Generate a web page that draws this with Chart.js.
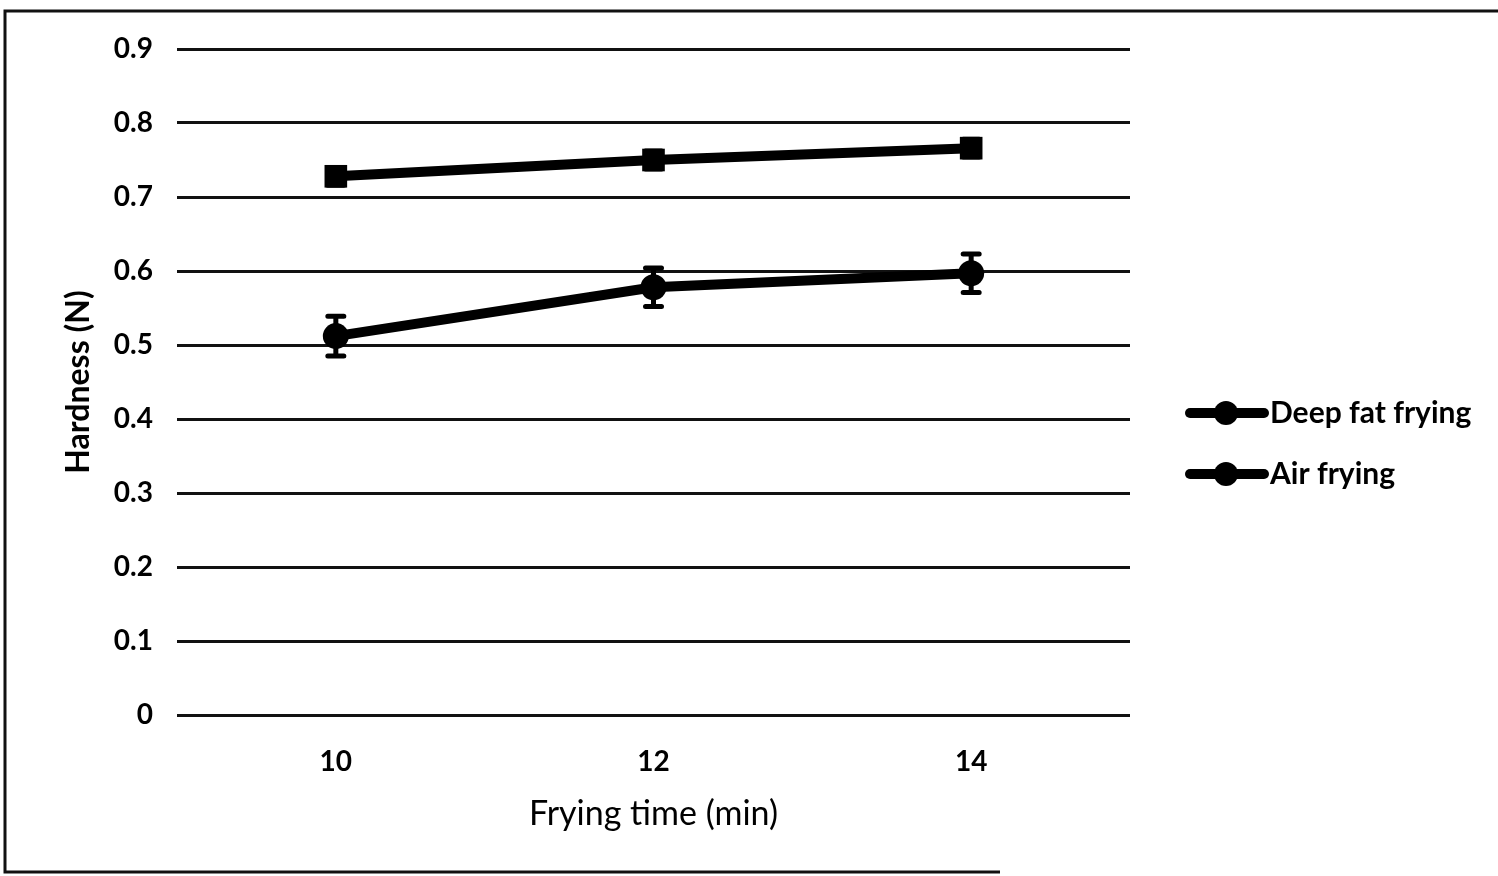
<!DOCTYPE html>
<html>
<head>
<meta charset="utf-8">
<script src="https://cdn.jsdelivr.net/npm/chart.js@4.4.1/dist/chart.umd.min.js"></script>
<style>
  html, body { margin: 0; padding: 0; background: #fff; }
  #wrap { width: 1498px; height: 876px; }
</style>
</head>
<body>
<div id="wrap"><canvas id="c" width="1498" height="876"></canvas></div>
<script>
// Frying time categories (min)
const fryingTimes = ['10', '12', '14'];
// Hardness (N) means and standard deviations
const deepFatHardness = [0.728, 0.750, 0.766];
const deepFatError = [0.012, 0.012, 0.012];
const airFryHardness = [0.512, 0.578, 0.597];
const airFryError = [0.027, 0.026, 0.026];
// Axis settings
const yMin = 0, yMax = 0.9, yStep = 0.1;
const seriesNames = ['Deep fat frying', 'Air frying'];

const FONT = 'Lato, "Open Sans", sans-serif';

// Vertical error bars with caps
const errorBars = {
  id: 'errorBars',
  afterDatasetsDraw(chart) {
    const { ctx, scales: { x, y } } = chart;
    ctx.save();
    ctx.strokeStyle = '#000';
    chart.data.datasets.forEach(ds => {
      if (!ds.errors) return;
      ds.data.forEach((v, i) => {
        const px = x.getPixelForValue(i);
        const top = y.getPixelForValue(v + ds.errors[i]);
        const bot = y.getPixelForValue(v - ds.errors[i]);
        ctx.lineWidth = 5;
        ctx.beginPath();
        ctx.moveTo(px, top); ctx.lineTo(px, bot);
        ctx.stroke();
        ctx.lineCap = 'round';
        ctx.beginPath();
        ctx.moveTo(px - 8, top); ctx.lineTo(px + 8, top);
        ctx.moveTo(px - 8, bot); ctx.lineTo(px + 8, bot);
        ctx.stroke();
        ctx.lineCap = 'butt';
      });
    });
    ctx.restore();
  }
};

// Legend: line sample with a round marker, then the series name
const sideLegend = {
  id: 'sideLegend',
  afterDraw(chart) {
    const { ctx } = chart;
    ctx.save();
    chart.data.datasets.forEach((ds, i) => {
      const yy = 413 + i * 61;
      ctx.strokeStyle = '#000';
      ctx.lineWidth = 10;
      ctx.lineCap = 'round';
      ctx.beginPath();
      ctx.moveTo(1190, yy); ctx.lineTo(1264, yy);
      ctx.stroke();
      ctx.fillStyle = '#000';
      ctx.beginPath();
      ctx.arc(1226, yy, 12, 0, Math.PI * 2);
      ctx.fill();
      ctx.font = 'bold 30px ' + FONT;
      ctx.textBaseline = 'middle';
      ctx.textAlign = 'left';
      ctx.fillText(ds.label, 1270, yy);
    });
    ctx.restore();
  }
};

// Outer frame around the figure
const frame = {
  id: 'frame',
  beforeDraw(chart) {
    const { ctx } = chart;
    ctx.save();
    ctx.fillStyle = '#fff';
    ctx.fillRect(0, 0, chart.width, chart.height);
    ctx.strokeStyle = '#111';
    ctx.lineWidth = 3;
    ctx.beginPath();
    ctx.moveTo(1498, 11); ctx.lineTo(5, 11); ctx.lineTo(5, 872); ctx.lineTo(1000, 872);
    ctx.stroke();
    ctx.restore();
  }
};

new Chart(document.getElementById('c'), {
  type: 'line',
  data: {
    labels: fryingTimes,
    datasets: [
      {
        label: seriesNames[0],
        data: deepFatHardness,
        errors: deepFatError,
        borderColor: '#000',
        backgroundColor: '#000',
        borderWidth: 10,
        pointBorderWidth: 0,
        pointStyle: 'rect',
        pointRadius: 16,
        pointHoverRadius: 16,
        tension: 0
      },
      {
        label: seriesNames[1],
        data: airFryHardness,
        errors: airFryError,
        borderColor: '#000',
        backgroundColor: '#000',
        borderWidth: 10,
        pointBorderWidth: 0,
        pointStyle: 'circle',
        pointRadius: 13,
        pointHoverRadius: 13,
        tension: 0
      }
    ]
  },
  options: {
    responsive: false,
    animation: false,
    layout: { padding: { left: 0, top: 49, right: 368, bottom: 0 } },
    plugins: {
      legend: { display: false },
      tooltip: { enabled: false }
    },
    scales: {
      x: {
        type: 'category',
        offset: true,
        grid: { display: false, drawTicks: false },
        border: { display: false },
        ticks: { color: '#000', padding: 30, font: { family: FONT, size: 28, weight: 'bold' } },
        title: {
          display: true,
          text: 'Frying time (min)',
          color: '#000',
          font: { family: FONT, size: 34, weight: 'normal' },
          padding: { top: 0, bottom: 42 }
        },
        afterFit(scale) { scale.height = 161; }
      },
      y: {
        min: yMin,
        max: yMax,
        grid: { color: '#111', lineWidth: 3, drawTicks: false },
        border: { display: false },
        ticks: {
          stepSize: yStep,
          color: '#000',
          padding: 24,
          font: { family: FONT, size: 28, weight: 'bold' },
          callback: v => (Math.round(v * 10) / 10).toString()
        },
        title: {
          display: true,
          text: 'Hardness (N)',
          color: '#000',
          font: { family: FONT, size: 32, weight: 'bold' },
          padding: { top: 59, bottom: 0 }
        },
        afterFit(scale) { scale.width = 177; }
      }
    }
  },
  plugins: [frame, errorBars, sideLegend]
});
</script>
</body>
</html>
